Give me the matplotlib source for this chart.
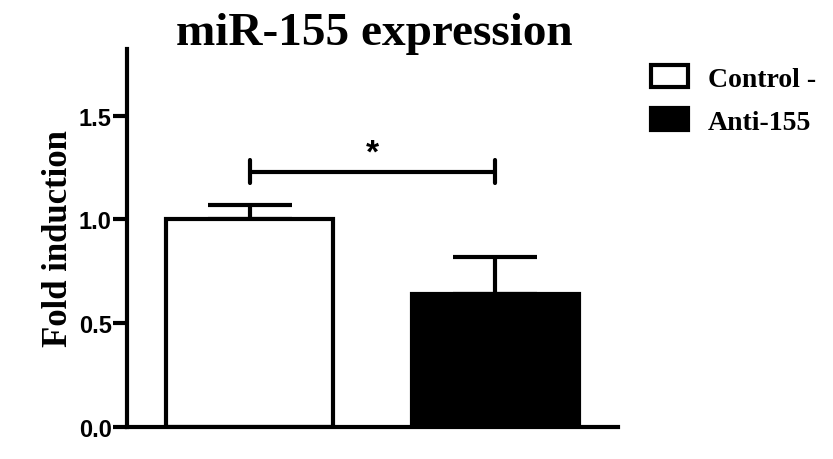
import matplotlib.pyplot as plt

##############
#Chart values#
##############
groups = ['Control -', 'Anti-155']
fold = [1.0, 0.64]
sem = [0.07, 0.18]
bar_colors = ['white', 'black']
yticks = [0.0, 0.5, 1.0, 1.5]
sig_height = 1.23
sig_label = '*'

serif = 'Liberation Serif'
sans = 'Liberation Sans'
lw = 3

fig = plt.figure(figsize=(8.33, 4.6), dpi=100)
ax = fig.add_axes([0.1525, 0.0696, 0.5895, 0.8214])

x = range(len(groups))
bars = ax.bar(x, fold, width=0.68, color=bar_colors, edgecolor='black',
              linewidth=lw, label=groups, zorder=2)
ax.errorbar(x, fold, yerr=[[0] * len(sem), sem], fmt='none', ecolor='black',
            elinewidth=lw, capsize=30, capthick=lw, zorder=1)

# significance bracket
ax.plot([0, 1], [sig_height, sig_height], color='black', lw=lw,
        solid_capstyle='butt')
for xi in [0, 1]:
    ax.plot([xi, xi], [sig_height - 0.055, sig_height + 0.055], color='black',
            lw=lw, solid_capstyle='round')
ax.text(0.5, sig_height + 0.09, sig_label, ha='center', va='center',
        fontsize=24, family=sans, fontweight='bold')

ax.set_xlim(-0.5, 1.5)
ax.set_ylim(0, 1.82)
ax.set_xticks([])
ax.set_yticks(yticks)
ax.set_yticklabels(['%.1f' % t for t in yticks], family=sans,
                   fontweight='bold', fontsize=17)
ax.tick_params(axis='y', length=10, width=lw, pad=1)
for side in ['top', 'right']:
    ax.spines[side].set_visible(False)
for side in ['left', 'bottom']:
    ax.spines[side].set_linewidth(lw)

ax.set_ylabel('Fold induction', family=serif, fontweight='bold',
              fontsize=25, labelpad=3)
fig.text(0.449, 0.927, 'miR-155 expression', ha='center', va='center',
         family=serif, fontweight='bold', fontsize=34)

ax.legend(handles=bars, labels=groups, loc='upper left',
          bbox_to_anchor=(1.016, 1.023), frameon=False,
          prop={'family': serif, 'weight': 'bold', 'size': 20},
          handlelength=1.35, handleheight=0.8, handletextpad=0.7,
          labelspacing=0.6)

fig.savefig('out.png', dpi=100)
